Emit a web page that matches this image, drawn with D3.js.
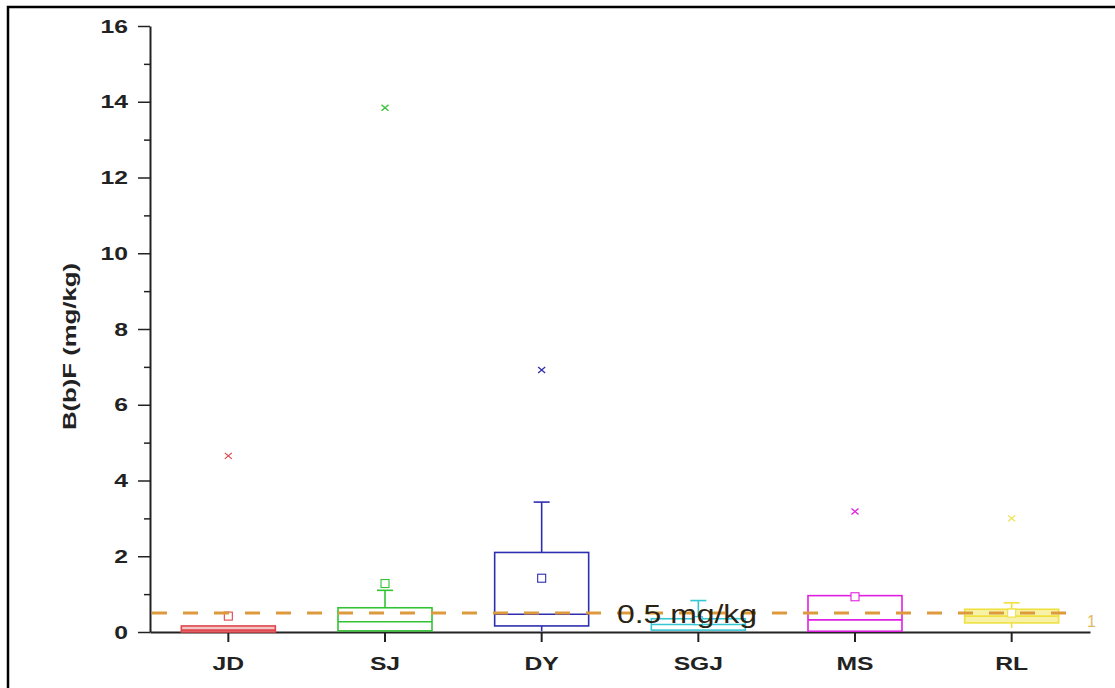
<!DOCTYPE html>
<html lang="en">
<head>
    <meta charset="UTF-8">
    <title>B(b)F box chart</title>
    <script src="https://d3js.org/d3.v7.min.js"></script>
    <style>
        body { margin: 0; background: white; }
        svg { display: block; font-family: "Liberation Sans", Arial, sans-serif; }
    </style>
</head>
<body>
    <div id="chart"></div>
    <script>
        // values (mg/kg)
        const categories = ["JD", "SJ", "DY", "SGJ", "MS", "RL"];
        const whiskerLow = [0.0, 0.02, 0.02, 0.02, 0.0, 0.1];
        const q1 = [0.0, 0.03, 0.16, 0.05, 0.02, 0.24];
        const medians = [0.05, 0.27, 0.47, 0.2, 0.32, 0.42];
        const q3 = [0.16, 0.64, 2.1, 0.35, 0.96, 0.6];
        const whiskerHigh = [0.16, 1.1, 3.43, 0.83, 0.96, 0.77];
        const means = [0.42, 1.28, 1.42, 0.3, 0.93, 0.5];
        const outliers = [4.65, 13.84, 6.92, null, 3.18, 3.0];
        const colors = ["#e0474c", "#33c233", "#2e2eb0", "#36c6d6", "#e020e0", "#efe040"];
        const refValue = 0.5;
        const refLabel = "0.5 mg/kg";
        const yTicks = [0, 2, 4, 6, 8, 10, 12, 14, 16];

        const width = 1115, height = 688;
        const svg = d3.select("#chart").append("svg")
            .attr("width", width)
            .attr("height", height);

        // outer frame (top and left edges show in the picture)
        svg.append("path")
            .attr("d", "M8,690 L8,7 L1117,7")
            .attr("fill", "none")
            .attr("stroke", "#000")
            .attr("stroke-width", 2.5);

        const x = d3.scaleBand().domain(categories).range([150, 1090]).padding(0);
        const y = d3.scaleLinear().domain([0, 16]).range([632, 26]);
        const boxW = x.bandwidth() * 0.6;

        // y axis: minor ticks then major ticks
        svg.append("g")
            .attr("transform", "translate(150,0)")
            .call(d3.axisLeft(y).tickValues(d3.range(1, 16, 2)).tickSize(6).tickFormat(""))
            .call(g => g.select(".domain").remove())
            .call(g => g.selectAll("line").attr("stroke", "#222").attr("stroke-width", 1.5));

        const yAxis = svg.append("g")
            .attr("transform", "translate(150,0)")
            .call(d3.axisLeft(y).tickValues(yTicks).tickSize(12).tickSizeOuter(0).tickPadding(0));
        yAxis.select(".domain").attr("stroke", "#222").attr("stroke-width", 2);
        yAxis.selectAll("line").attr("stroke", "#222").attr("stroke-width", 1.5);
        yAxis.selectAll("text")
            .attr("x", -17)
            .attr("transform", "scale(1.3,1)")
            .attr("font-size", 19)
            .attr("font-weight", "bold")
            .attr("fill", "#222")
            .attr("font-family", "Liberation Sans, Arial, sans-serif");

        const xAxis = svg.append("g")
            .attr("transform", "translate(0,632)")
            .call(d3.axisBottom(x).tickSize(10).tickSizeOuter(0).tickPadding(0));
        xAxis.select(".domain").attr("stroke", "#222").attr("stroke-width", 2);
        xAxis.selectAll("line").attr("stroke", "#222").attr("stroke-width", 2);
        xAxis.selectAll("text")
            .attr("y", 38)
            .attr("dy", 0)
            .attr("transform", "scale(1.3,1)")
            .attr("font-size", 19)
            .attr("font-weight", "bold")
            .attr("fill", "#222")
            .attr("font-family", "Liberation Sans, Arial, sans-serif");
        // keep label centred after horizontal stretch
        xAxis.selectAll(".tick").each(function(d) {
            const t = d3.select(this);
            t.select("text").attr("x", 0);
        });

        // y title
        svg.append("text")
            .attr("transform", `translate(76,${(263 + 430) / 2}) rotate(-90)`)
            .attr("text-anchor", "middle")
            .attr("font-size", 19)
            .attr("font-weight", "bold")
            .attr("fill", "#222")
            .attr("textLength", 167)
            .attr("lengthAdjust", "spacingAndGlyphs")
            .text("B(b)F (mg/kg)");

        // boxes
        const boxes = svg.append("g");
        categories.forEach((c, i) => {
            const cx = x(c) + x.bandwidth() / 2;
            const col = colors[i];
            const g = boxes.append("g").attr("stroke", col).attr("fill", "none").attr("stroke-width", 1.6);
            // whiskers
            if (whiskerHigh[i] > q3[i]) {
                g.append("line").attr("x1", cx).attr("x2", cx).attr("y1", y(q3[i])).attr("y2", y(whiskerHigh[i]));
                g.append("line").attr("x1", cx - 8).attr("x2", cx + 8).attr("y1", y(whiskerHigh[i])).attr("y2", y(whiskerHigh[i]));
            }
            if (whiskerLow[i] < q1[i]) {
                g.append("line").attr("x1", cx).attr("x2", cx).attr("y1", y(q1[i])).attr("y2", y(whiskerLow[i]));
            }
            g.append("rect")
                .attr("x", cx - boxW / 2)
                .attr("y", y(q3[i]))
                .attr("width", boxW)
                .attr("height", Math.max(y(q1[i]) - y(q3[i]), 1))
                .attr("fill", i === 0 ? "#f3c4c4" : (i === 5 ? "#f8f2a8" : "none"));
            g.append("line")
                .attr("x1", cx - boxW / 2).attr("x2", cx + boxW / 2)
                .attr("y1", y(medians[i])).attr("y2", y(medians[i]));
            // mean square
            g.append("rect")
                .attr("x", cx - 4).attr("y", y(means[i]) - 4)
                .attr("width", 8).attr("height", 8)
                .attr("stroke-width", 1.1)
                .attr("fill", "white");
            // outlier cross
            if (outliers[i] != null) {
                const oy = y(outliers[i]);
                g.append("path")
                    .attr("d", `M${cx - 3.5},${oy - 3} L${cx + 3.5},${oy + 3} M${cx - 3.5},${oy + 3} L${cx + 3.5},${oy - 3}`)
                    .attr("stroke-width", 1.3);
            }
        });

        // reference line at 0.5 mg/kg
        svg.append("line")
            .attr("x1", 152).attr("x2", 1078)
            .attr("y1", y(refValue)).attr("y2", y(refValue))
            .attr("stroke", "#dd9a3c")
            .attr("stroke-width", 3)
            .attr("stroke-dasharray", "15,16");

        svg.append("text")
            .attr("x", 617)
            .attr("y", 623)
            .attr("font-size", 25)
            .attr("fill", "#2a2212")
            .attr("textLength", 140)
            .attr("lengthAdjust", "spacingAndGlyphs")
            .text(refLabel);

        svg.append("text")
            .attr("x", 1087)
            .attr("y", 627)
            .attr("font-size", 16)
            .attr("fill", "#e2b860")
            .text("1");
    </script>
</body>
</html>
